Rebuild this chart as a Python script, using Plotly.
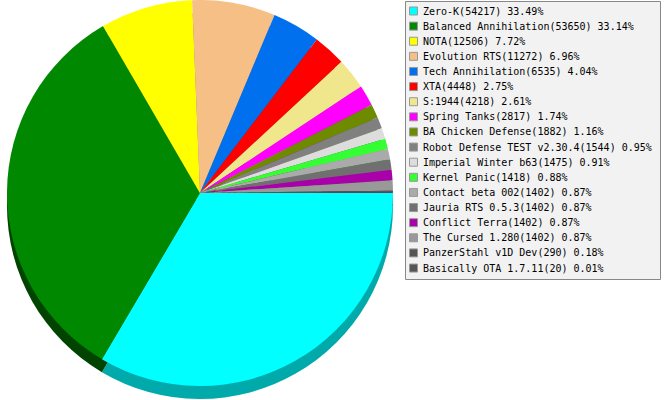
import plotly.graph_objects as go

names = ["Zero-K", "Balanced Annihilation", "NOTA", "Evolution RTS", "Tech Annihilation",
         "XTA", "S:1944", "Spring Tanks", "BA Chicken Defense", "Robot Defense TEST v2.30.4",
         "Imperial Winter b63", "Kernel Panic", "Contact beta 002", "Jauria RTS 0.5.3",
         "Conflict Terra", "The Cursed 1.280", "PanzerStahl v1D Dev", "Basically OTA 1.7.11"]
values = [54217, 53650, 12506, 11272, 6535, 4448, 4218, 2817, 1882, 1544,
          1475, 1418, 1402, 1402, 1402, 1402, 290, 20]
colors = ["#00FFFF", "#008800", "#FFFF00", "#F5BF85", "#0070EE", "#FF0000", "#F0E68C",
          "#FF00FF", "#6E8B00", "#808080", "#DDDDDD", "#33FF33", "#AAAAAA", "#707070",
          "#AA00AA", "#999999", "#555555", "#555555"]
shadow_colors = ["#00AAAA", "#004400", "#AAAA00", "#A37F58", "#004A9E", "#AA0000", "#A0995D",
                 "#AA00AA", "#495C00", "#555555", "#939393", "#22AA22", "#717171", "#4A4A4A",
                 "#710071", "#666666", "#383838", "#383838"]

total = sum(values)
labels = [f"{n}({v}) {v / total * 100:.2f}%" for n, v in zip(names, values)]

W, H = 665, 400
cx, cy, r = 200, 193, 193
depth = 13

fig = go.Figure()

# shadow (depth) pie
fig.add_trace(go.Pie(
    labels=labels, values=values, sort=False, direction="clockwise", rotation=90,
    marker=dict(colors=shadow_colors, line=dict(width=0)),
    textinfo="none", hoverinfo="skip", showlegend=False,
    domain=dict(x=[(cx - r) / W, (cx + r) / W],
                y=[1 - (cy + r + depth) / H, 1 - (cy - r + depth) / H]),
))
# top face
fig.add_trace(go.Pie(
    labels=labels, values=values, sort=False, direction="clockwise", rotation=90,
    marker=dict(colors=colors, line=dict(width=0)),
    textinfo="none", showlegend=False,
    domain=dict(x=[(cx - r) / W, (cx + r) / W],
                y=[1 - (cy + r) / H, 1 - (cy - r) / H]),
))

# legend built on a pixel-scaled hidden axis
y0, dy = 11, 15.12
ys = [y0 + dy * i for i in range(len(labels))]
fig.add_trace(go.Scatter(
    x=[413.5] * len(labels), y=ys, mode="markers",
    marker=dict(symbol="square", size=8, color=colors, line=dict(color="#999999", width=1)),
    hoverinfo="skip", showlegend=False, cliponaxis=False,
))
for lab, yy in zip(labels, ys):
    fig.add_annotation(x=420.5, y=yy, text=lab, showarrow=False, xanchor="left", yanchor="middle",
                       font=dict(family="DejaVu Sans Mono", size=10, color="#000000"),
                       xref="x", yref="y")

fig.add_shape(type="rect", xref="x", yref="y", x0=405.5, x1=660.5, y0=1.5, y1=279.5,
              fillcolor="#F2F2F2", line=dict(color="#888888", width=1), layer="below")

fig.update_layout(
    width=W, height=H, margin=dict(l=0, r=0, t=0, b=0),
    paper_bgcolor="#FFFFFF", plot_bgcolor="rgba(0,0,0,0)",
    xaxis=dict(range=[0, W], visible=False, fixedrange=True),
    yaxis=dict(range=[H, 0], visible=False, fixedrange=True),
    showlegend=False,
)

fig.write_html("out.html", config={"displayModeBar": False},
               post_script="document.body.style.margin='0';")
